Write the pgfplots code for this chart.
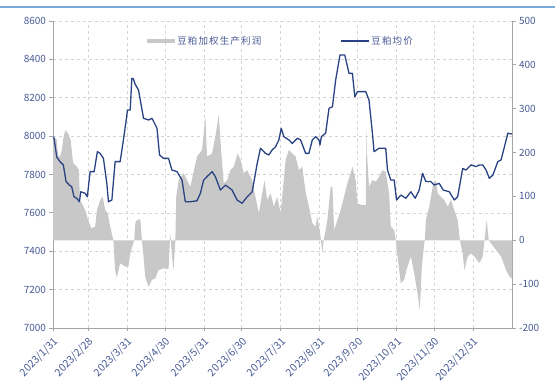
\documentclass[border=0pt]{standalone}
\usepackage{fontspec}
\setmainfont{Noto Sans CJK SC}
\newfontfamily\legendfont{Noto Sans CJK SC}[LetterSpace=12]
\usepackage{pgfplots}
\pgfplotsset{compat=1.18}

\definecolor{ticktext}{RGB}{72,90,150}
\definecolor{priceline}{RGB}{40,66,130}
\definecolor{profitfill}{RGB}{200,200,200}
\definecolor{axisgray}{RGB}{165,165,165}
\definecolor{gridgray}{RGB}{212,212,212}
\definecolor{topbar}{RGB}{120,170,215}

% days counted from 2023/1/31
\pgfplotstableread{
day profit
0 236
2 232
3 229
4 195
5.5 190
7 205
8.5 238
10 251
12 244
14 229
16 176
19 168
20.5 160
21.5 90
23 84
25.5 69
28 46
30.5 27
33.5 31
35 69
37.5 92
39.5 99
41.5 69
43.5 62
45.5 31
47 12
48 0
49.4 -68
50.8 -85
53.4 -52
57.4 -60
60 -60
61.4 -30
62.7 -18
64.6 0
65.5 40
66.7 46
69.4 48
70.7 0
72 -37
73.3 -83
76 -106
78.7 -90
81.3 -87
83.9 -68
87.9 -64
91.9 -66
92.6 -20
93.3 16
94 -10
94.6 -37
95.9 -68
97.3 0
98 100
99.9 137
103.9 153
109.2 122
114.5 191
118.5 206
121.2 280
122.5 191
126.5 198
129.1 236
131.8 285
133.7 206
135.8 130
138.5 137
141.1 160
143.7 168
146.9 198
149.1 183
151.7 153
154.4 160
158.4 137
161 99
163.7 62
166.4 107
168.2 137
170.3 92
173 107
175.6 77
178.3 99
181 62
185 183
187.6 206
190.3 198
192.9 191
195.5 160
198.2 168
200.9 110
203.5 77
206.2 39
208.7 31
210.2 54
212.8 8
214.2 -30
215.2 0
216.8 23
218.2 46
220.8 122
222.2 122
223.5 23
226.2 46
228.8 69
231.4 99
234.1 130
236.7 153
238.1 168
240.7 137
242.1 84
246.1 80
248.7 80
249.3 250
250 183
251.3 122
254 137
256.7 134
259.3 145
262 160
264.6 156
267.3 107
268.6 31
271.3 23
272.6 0
274 -37
276.6 -98
279.2 -90
281.9 -60
284.6 -37
287.2 -75
289.9 -121
291.7 -159
293.3 -60
295.2 -7
295.7 0
296.5 46
299.2 77
301.9 122
304.5 137
305.9 107
308.5 99
311.1 92
313.8 77
316.5 92
319.1 69
321.8 46
323.6 0
325.8 -30
327.1 -68
329.8 -37
332.4 -30
335.1 -37
339 -52
341.7 -37
343 -3
344.9 46
346.5 0
348.3 -7
352.3 -22
356.3 -37
360.3 -68
363 -83
365 -87
}\profittable

\pgfplotstableread{
day price
0 7995
0.8 7990
3 7890
5.6 7867
8.2 7850
10.4 7763
13 7745
14.9 7736
16.7 7684
18.9 7676
21 7658
22.1 7710
25.5 7702
27.3 7684
29.5 7815
32.7 7815
35.3 7919
37.5 7910
40.1 7884
42.8 7754
44.1 7658
46.8 7667
49.4 7867
53.4 7867
56 7980
58.2 8084
59.2 8136
61.4 8136
62.7 8301
63.8 8300
65.4 8270
68 8240
72 8093
76 8084
78.7 8093
80.5 8070
82.7 8041
84.7 7902
87.9 7884
91.9 7884
94.6 7823
98.6 7815
102.6 7771
105.2 7658
109.2 7658
114.5 7663
117.2 7702
119.8 7771
122.5 7789
126.5 7815
129.1 7789
133.1 7719
137.1 7745
142.4 7719
146.4 7667
150.4 7650
154.4 7684
158.4 7710
162.4 7858
165 7937
169 7910
171.6 7902
174.3 7928
177 7945
179.6 7980
181.5 8041
183.6 7997
187.6 7980
190.3 7962
194.3 7989
196.9 7980
200.9 7910
203.5 7910
206.2 7980
208.8 7997
211.5 7980
212.3 7954
213.4 7997
216.8 8015
219.5 8145
222.2 8153
224.8 8293
228.2 8423
232 8423
235.4 8327
238.1 8327
240 8205
242.1 8232
248.7 8232
251.3 8188
254 8015
255.3 7919
259.3 7937
264.6 7937
266 7823
268.6 7771
271.3 7771
273.2 7667
276.6 7693
280.6 7676
284.6 7710
288 7676
291.2 7719
293.9 7806
296.5 7763
300.5 7763
303.1 7745
307.1 7754
310.3 7719
315.1 7710
319.1 7667
321.8 7684
325.8 7832
328.4 7823
332.4 7850
336.4 7841
339 7850
341.7 7850
344.4 7823
347 7780
349.8 7797
353.7 7867
356.3 7876
359 7945
361.7 8015
365 8011
}\pricetable

\pgfplotsset{
  chartframe/.style={
    scale only axis, width=459pt, height=307pt,
    at={(53pt,55pt)}, anchor=south west,
    xmin=0, xmax=365,
    /pgf/number format/assume math mode=true,
    tick label style={font=\fontsize{10}{12}\selectfont, color=ticktext},
    axis line style={-, axisgray, line width=0.9pt},
    tick style={axisgray, line width=0.8pt},
    tick align=outside, major tick length=3.5pt,
  },
}

\begin{document}
\begin{tikzpicture}
\useasboundingbox (0pt,0pt) rectangle (555pt,383pt);
\draw[topbar, line width=1.5pt] (0pt,376pt) -- (555pt,376pt);

% grid, left scale and dates
\begin{axis}[chartframe,
  ymin=7000, ymax=8600, ytick={7000,7200,...,8600},
  yticklabel style={/pgf/number format/1000 sep={}},
  axis x line*=bottom, axis y line*=left,
  grid=major, grid style={dashed, gridgray, line width=0.6pt},
  xtick={0,28,59,89,120,150,181,212,242,273,303,334},
  xticklabels={2023/1/31,2023/2/28,2023/3/31,2023/4/30,2023/5/31,2023/6/30,2023/7/31,2023/8/31,2023/9/30,2023/10/31,2023/11/30,2023/12/31},
  x tick label style={rotate=45, anchor=north east, font=\fontsize{10.5}{12}\selectfont},
]
\end{axis}

% weighted production profit, right scale
\begin{axis}[chartframe,
  ymin=-200, ymax=500, ytick={-200,-100,...,500},
  axis y line*=right, axis x line=none, xtick=\empty,
  legend style={at={(0.205,0.935)}, anchor=west, draw=none, fill=none,
    inner sep=0pt, font=\legendfont\fontsize{9.5}{11}\selectfont, text=ticktext},
]
\addplot[fill=profitfill, draw=none,
  legend image code/.code={\fill[profitfill] (0pt,-2.2pt) rectangle (28pt,2.2pt);}]
  table[x=day, y=profit] {\profittable} \closedcycle;
\addlegendentry{豆粕加权生产利润}
\end{axis}

% average price, left scale
\begin{axis}[chartframe,
  ymin=7000, ymax=8600, hide axis,
  legend style={at={(0.625,0.935)}, anchor=west, draw=none, fill=none,
    inner sep=0pt, font=\legendfont\fontsize{9.5}{11}\selectfont, text=ticktext},
]
\addplot[priceline, line width=1.3pt, line join=round,
  legend image code/.code={\draw[priceline, line width=1.3pt] (0pt,0pt) -- (28pt,0pt);}]
  table[x=day, y=price] {\pricetable};
\addlegendentry{豆粕均价}
\end{axis}
\end{tikzpicture}
\end{document}
